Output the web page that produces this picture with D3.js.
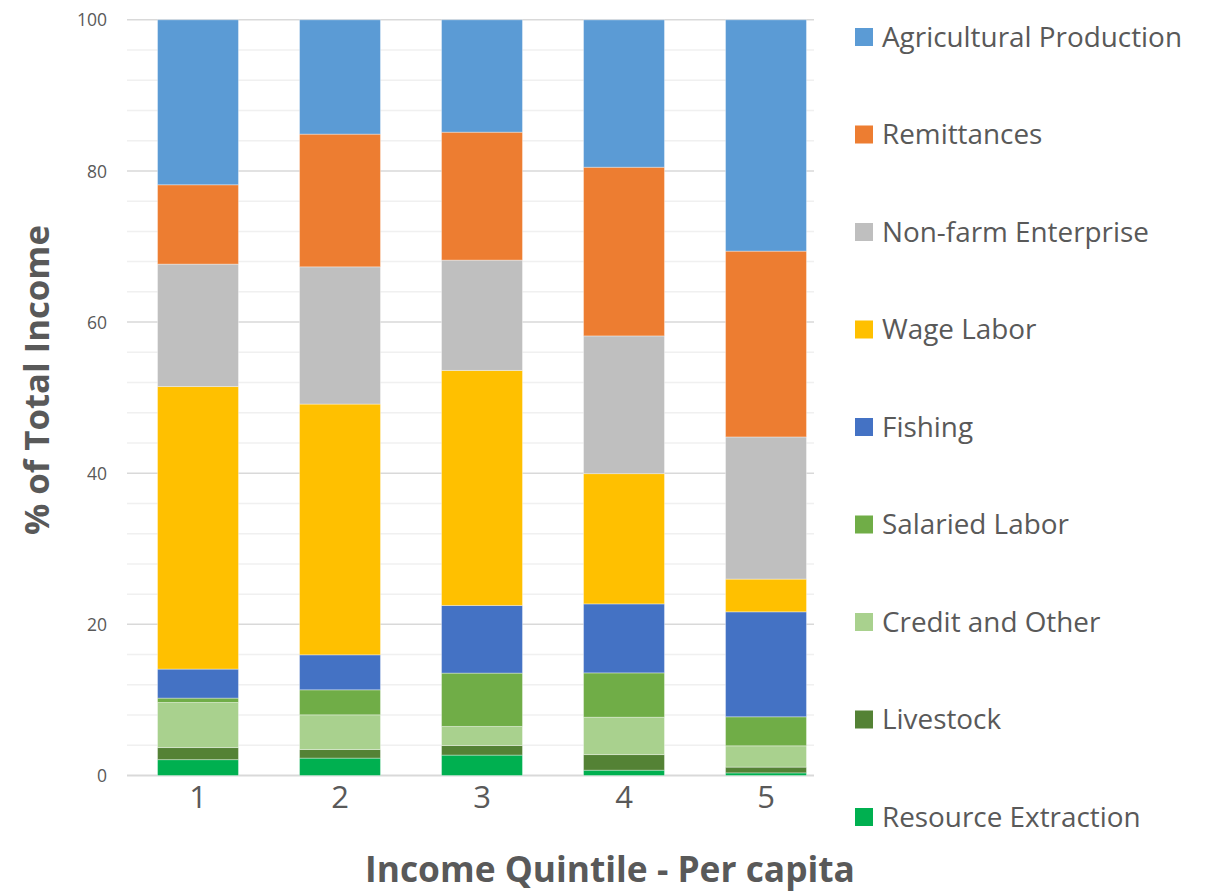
<!DOCTYPE html>
<html><head><meta charset="utf-8">
<script src="https://cdn.jsdelivr.net/npm/d3@7"></script>
<style>html,body{margin:0;padding:0;background:#fff;}svg{display:block;}</style>
</head><body>
<svg id="c" width="1208" height="892"></svg>
<script>
const quintiles = ["1","2","3","4","5"];
const seriesNames = ["Resource Extraction","Livestock","Credit and Other","Salaried Labor","Fishing","Wage Labor","Non-farm Enterprise","Remittances","Agricultural Production"];
const resourceExtraction   = [2.1, 2.3, 2.7, 0.7, 0.35];
const livestock            = [1.6, 1.14, 1.27, 2.07, 0.76];
const creditAndOther       = [5.96, 4.59, 2.52, 4.94, 2.82];
const salariedLabor        = [0.58, 3.31, 7.06, 5.87, 3.84];
const fishing              = [3.84, 4.63, 8.95, 9.13, 13.89];
const wageLabor            = [37.39, 33.18, 31.1, 17.24, 4.33];
const nonFarmEnterprise    = [16.2, 18.16, 14.6, 18.22, 18.81];
const remittances          = [10.5, 17.56, 16.93, 22.32, 24.59];
const agriculturalProd     = [21.83, 15.13, 14.87, 19.5, 30.61];
const yTicks = [0, 20, 40, 60, 80, 100];
const colors = ["#00B050","#548235","#A9D18E","#70AD47","#4472C4","#FFC000","#BFBFBF","#ED7D31","#5B9BD5"];

const seriesVals = [resourceExtraction, livestock, creditAndOther, salariedLabor, fishing, wageLabor, nonFarmEnterprise, remittances, agriculturalProd];
const rows = quintiles.map((q,i)=>{const o={q}; seriesNames.forEach((s,j)=>o[s]=seriesVals[j][i]); return o;});
const stacked = d3.stack().keys(seriesNames)(rows);

const svg = d3.select("#c");
const pLeft = 127, pRight = 814, pTop = 19.8, pBottom = 775.5;
const x = d3.scaleBand().domain(quintiles).range([127, 837]).paddingInner(0.43).paddingOuter(0.215);
const y = d3.scaleLinear().domain([0,100]).range([pBottom, pTop]);
const font = "'Open Sans', 'Noto Sans', sans-serif";
const grey = "#595959";

// minor gridlines
const minor = d3.range(0, 101, 4).filter(v => v % 20 !== 0);
svg.append("g").selectAll("line").data(minor).join("line")
  .attr("x1", pLeft).attr("x2", pRight).attr("y1", d=>y(d)).attr("y2", d=>y(d))
  .attr("stroke", "#f0f0f0").attr("stroke-width", 1.5);
svg.append("g").selectAll("line").data(yTicks).join("line")
  .attr("x1", pLeft).attr("x2", pRight).attr("y1", d=>y(d)).attr("y2", d=>y(d))
  .attr("stroke", "#d9d9d9").attr("stroke-width", d=> d===0 ? 2 : 1.5);

// bars
svg.append("g").selectAll("g").data(stacked).join("g")
  .attr("fill", (d,i)=>colors[i])
  .selectAll("rect").data(d=>d).join("rect")
  .attr("x", d=>x(d.data.q)).attr("width", x.bandwidth())
  .attr("y", d=>y(d[1])).attr("height", d=>y(d[0])-y(d[1]))
  .attr("stroke", "rgba(255,255,255,0.35)").attr("stroke-width", 1);

// y axis labels
const yAxis = d3.axisLeft(y).tickValues(yTicks).tickSize(0).tickPadding(0);
const ya = svg.append("g").attr("transform", `translate(107,0)`).call(yAxis);
ya.select(".domain").remove();
ya.selectAll("text").attr("font-family", font).attr("font-size", 17.5).attr("fill", grey).attr("dy","0.35em");

// x axis labels
const xAxis = d3.axisBottom(x).tickSize(0).tickPadding(0);
const xa = svg.append("g").attr("transform", `translate(0,797)`).call(xAxis);
xa.select(".domain").remove();
xa.selectAll("text").attr("font-family", font).attr("font-size", 31).attr("fill", grey).attr("dy","0.35em");

function fit(sel, target){
  const w = sel.node().getComputedTextLength();
  const fs = parseFloat(sel.attr("font-size"));
  sel.attr("font-size", fs * target / w);
}
// axis titles
const xt = svg.append("text").attr("x", 610).attr("y", 870).attr("dy","0.35em").attr("text-anchor","middle")
  .attr("font-family", font).attr("font-weight", "bold").attr("font-size", 32).attr("fill", grey)
  .text("Income Quintile - Per capita");
fit(xt, 490);
const yt = svg.append("text").attr("transform", "translate(37,380) rotate(-90)").attr("dy","0.35em").attr("text-anchor","middle")
  .attr("font-family", font).attr("font-weight", "bold").attr("font-size", 32).attr("fill", grey)
  .text("% of Total Income");
fit(yt, 310);

// legend (top to bottom reversed order)
const legOrder = seriesNames.map((s,i)=>({s, c: colors[i]})).reverse();
const lg = svg.append("g").selectAll("g").data(legOrder).join("g")
  .attr("transform", (d,i)=>`translate(855,${37 + i*97.5})`);
lg.append("rect").attr("x",0).attr("y",-9).attr("width",18).attr("height",18).attr("fill", d=>d.c);
const lt = lg.append("text").attr("x", 27).attr("dy","0.35em")
  .attr("font-family", font).attr("font-size", 26).attr("fill", grey).text(d=>d.s);
const first = lt.filter((d,i)=>i===0);
const w0 = first.node().getComputedTextLength();
const fsL = 26 * 300 / w0;
lt.attr("font-size", fsL);
</script>
</body></html>
